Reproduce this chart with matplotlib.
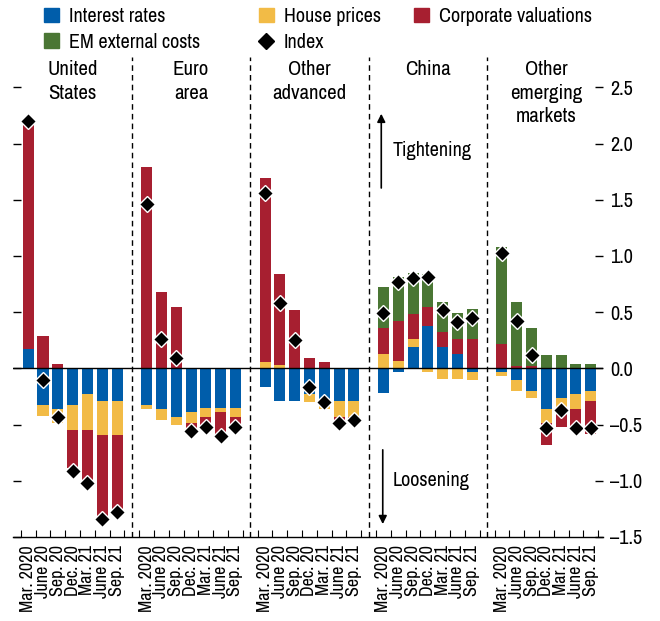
import matplotlib
matplotlib.use('Agg')
import matplotlib.pyplot as plt
from matplotlib import font_manager
from matplotlib.patches import Patch
from matplotlib.lines import Line2D
import numpy as np

# narrow font, the reference uses a condensed sans
names = {f.name for f in font_manager.fontManager.ttflist}
for fam in ['Archivo Narrow', 'Roboto Condensed', 'PT Sans Narrow', 'Liberation Sans']:
    if fam in names:
        plt.rcParams['font.family'] = [fam, 'DejaVu Sans']
        break

regions = ['United\nStates', 'Euro\narea', 'Other\nadvanced', 'China', 'Other\nemerging\nmarkets']
quarters = ['Mar. 2020', 'June 20', 'Sep. 20', 'Dec. 20', 'Mar. 21', 'June 21', 'Sep. 21']

interest_rates = [
    [0.17, -0.33, -0.36, -0.33, -0.23, -0.29, -0.29],
    [-0.33, -0.36, -0.43, -0.39, -0.35, -0.35, -0.35],
    [-0.17, -0.29, -0.29, -0.23, -0.27, -0.29, -0.29],
    [-0.22, -0.03, 0.19, 0.38, 0.19, 0.13, -0.03],
    [-0.035, -0.10, -0.20, -0.36, -0.265, -0.23, -0.20],
]
house_prices = [
    [0.0, -0.09, -0.13, -0.22, -0.32, -0.30, -0.30],
    [-0.03, -0.10, -0.07, -0.10, -0.08, -0.04, -0.08],
    [0.06, 0.03, 0.0, -0.07, -0.09, -0.14, -0.14],
    [0.125, 0.065, 0.07, -0.03, -0.095, -0.095, -0.075],
    [-0.035, -0.10, -0.065, -0.13, -0.10, -0.135, -0.09],
]
corporate_valuations = [
    [2.01, 0.29, 0.035, -0.34, -0.45, -0.73, -0.66],
    [1.79, 0.68, 0.55, -0.06, -0.07, -0.23, -0.07],
    [1.63, 0.81, 0.52, 0.095, 0.06, -0.04, -0.02],
    [0.235, 0.355, 0.22, 0.17, 0.13, 0.13, 0.26],
    [0.22, 0.025, 0.025, -0.195, -0.155, -0.195, -0.29],
]
em_external_costs = [
    [0, 0, 0, 0, 0, 0, 0],
    [0, 0, 0, 0, 0, 0, 0],
    [0, 0, 0, 0, 0, 0, 0],
    [0.36, 0.39, 0.37, 0.29, 0.27, 0.23, 0.265],
    [0.86, 0.565, 0.335, 0.12, 0.12, 0.035, 0.035],
]
index_values = [
    [2.20, -0.10, -0.43, -0.91, -1.02, -1.34, -1.28],
    [1.46, 0.26, 0.09, -0.56, -0.52, -0.60, -0.52],
    [1.56, 0.58, 0.255, -0.17, -0.30, -0.49, -0.46],
    [0.49, 0.77, 0.80, 0.81, 0.52, 0.41, 0.45],
    [1.03, 0.42, 0.12, -0.53, -0.37, -0.53, -0.53],
]

colors = {'ir': '#005DAA', 'hp': '#F2BB46', 'cv': '#A71F30', 'em': '#4A7634'}

fig = plt.figure(figsize=(6.6, 6.21), dpi=100)
ax = fig.add_axes([13 / 660, 84 / 621, 590 / 660, 480 / 621])

n_q = len(quarters)
gap = 8
xpos_all = []
for g in range(len(regions)):
    x = np.arange(n_q) + g * gap
    xpos_all.extend(x)
    pos = np.zeros(n_q)
    neg = np.zeros(n_q)
    for key, comp in [('ir', interest_rates), ('hp', house_prices),
                      ('cv', corporate_valuations), ('em', em_external_costs)]:
        v = np.array(comp[g], dtype=float)
        bottom = np.where(v >= 0, pos, neg)
        ax.bar(x, v, bottom=bottom, width=0.75, color=colors[key], linewidth=0, zorder=2)
        pos = pos + np.where(v >= 0, v, 0)
        neg = neg + np.where(v < 0, v, 0)
    ax.plot(x, index_values[g], linestyle='none', marker='D', markersize=8,
            markerfacecolor='black', markeredgecolor='white', markeredgewidth=1, zorder=4)
    ax.text(g * gap + 3, 2.74, regions[g], ha='center', va='top', fontsize=15,
            linespacing=1.28)
    if g > 0:
        ax.axvline(g * gap - 1, color='black', linestyle=(0, (4, 3)), linewidth=1, zorder=1)

ax.axhline(0, color='black', linewidth=1, zorder=3)

ax.set_xlim(-1.03, 38.83)
ax.set_ylim(-1.5, 2.77)

for s in ['top', 'left', 'right']:
    ax.spines[s].set_visible(False)
ax.spines['bottom'].set_linewidth(1)

ax.set_xticks(xpos_all)
ax.set_xticklabels(quarters * len(regions), rotation=90, fontsize=13)
ax.set_xticks(np.arange(-0.5, 39, 1), minor=True)
ax.tick_params(axis='x', which='major', length=0, pad=6)
ax.tick_params(axis='x', which='minor', direction='in', length=5, width=0.8)

yt = np.arange(-1.5, 2.51, 0.5)
ax.set_yticks(yt)
ax.set_yticklabels([f'{v:.1f}'.replace('-', '\u2013') for v in yt], fontsize=14.5)
ax.tick_params(axis='y', left=True, right=True, labelleft=False, labelright=True,
               direction='in', length=6, width=1, pad=5)

# tightening / loosening arrows
ax.annotate('', xy=(23.85, 2.29), xytext=(23.85, 1.58),
            arrowprops=dict(arrowstyle='-|>', color='black', lw=1.2, mutation_scale=12))
ax.text(24.6, 1.94, 'Tightening', ha='left', va='center', fontsize=14.5)
ax.annotate('', xy=(23.95, -1.41), xytext=(23.95, -0.70),
            arrowprops=dict(arrowstyle='-|>', color='black', lw=1.2, mutation_scale=12))
ax.text(24.6, -1.0, 'Loosening', ha='left', va='center', fontsize=14.5)

# legend: three columns placed by hand
leg_cols = [
    (44, [Patch(color=colors['ir'], label='Interest rates'),
          Patch(color=colors['em'], label='EM external costs')]),
    (259, [Patch(color=colors['hp'], label='House prices'),
           Line2D([], [], linestyle='none', marker='D', markersize=8, color='black',
                  label='Index')]),
    (414, [Patch(color=colors['cv'], label='Corporate valuations')]),
]
for xpx, hs in leg_cols:
    fig.legend(handles=hs, loc='upper left', bbox_to_anchor=(xpx / 660, 1 - 7 / 621),
               frameon=False, fontsize=14.5, handlelength=0.72, handleheight=0.72,
               handletextpad=0.5, labelspacing=0.33, borderaxespad=0, borderpad=0)

fig.savefig('out.png', dpi=100)
